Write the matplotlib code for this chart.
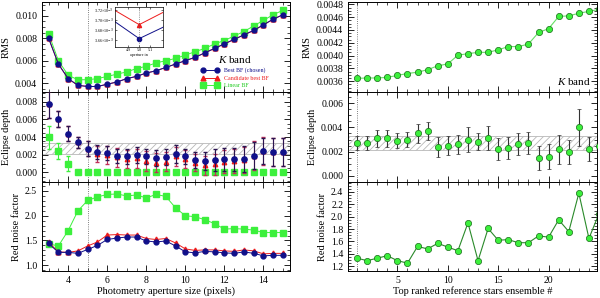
import numpy as np
import matplotlib.pyplot as plt
from matplotlib.ticker import MultipleLocator, AutoMinorLocator, FormatStrFormatter

plt.rcParams['font.family'] = ['Liberation Serif', 'DejaVu Serif']
plt.rcParams['mathtext.fontset'] = 'custom'
plt.rcParams['mathtext.it'] = 'Liberation Serif:italic'
plt.rcParams['font.size'] = 7.5
plt.rcParams['hatch.color'] = '#b0b0b0'
plt.rcParams['hatch.linewidth'] = 0.6

# ---------------- data: aperture scan (left column) ----------------
aper = [3.0, 3.5, 4.0, 4.5, 5.0, 5.5, 6.0, 6.5, 7.0, 7.5, 8.0, 8.5, 9.0,
        9.5, 10.0, 10.5, 11.0, 11.5, 12.0, 12.5, 13.0, 13.5, 14.0, 14.5, 15.0]

rms_best = [0.0080, 0.0057, 0.0044, 0.0038, 0.0037, 0.0037, 0.0039, 0.0041, 0.0044,
            0.0046, 0.0049, 0.0051, 0.0054, 0.0057, 0.0060, 0.0063, 0.0067, 0.0071,
            0.0075, 0.0079, 0.0083, 0.0087, 0.0092, 0.0097, 0.0101]
rms_cand = [0.0080, 0.0057, 0.0044, 0.0038, 0.0037, 0.0037, 0.0039, 0.0041, 0.0044,
            0.0046, 0.0049, 0.0051, 0.0054, 0.0057, 0.0060, 0.0063, 0.0067, 0.0071,
            0.0075, 0.0079, 0.0083, 0.0087, 0.0092, 0.0097, 0.0101]
rms_lin = [0.0084, 0.0060, 0.0047, 0.0043, 0.0043, 0.0044, 0.0046, 0.0048, 0.0050,
           0.0053, 0.0055, 0.0058, 0.0060, 0.0062, 0.0065, 0.0068, 0.0071, 0.0075,
           0.0078, 0.0082, 0.0086, 0.0091, 0.0096, 0.0101, 0.0105]

depth_best = [0.0077, 0.0060, 0.0044, 0.0034, 0.0027, 0.0023, 0.0022, 0.0019, 0.0018,
              0.0020, 0.0018, 0.0016, 0.0017, 0.0021, 0.0018, 0.0014, 0.0013, 0.0014,
              0.0015, 0.0015, 0.0015, 0.0019, 0.0024, 0.0023, 0.0023]
depth_best_err = [0.0015, 0.0009, 0.0008, 0.0006, 0.0008, 0.0008, 0.0008, 0.0008, 0.0009,
                  0.0009, 0.0009, 0.0009, 0.0009, 0.0010, 0.0009, 0.0009, 0.0010, 0.0012,
                  0.0013, 0.0013, 0.0015, 0.0015, 0.0015, 0.0016, 0.0016]
depth_cand = [0.0077, 0.0060, 0.0044, 0.0034, 0.0027, 0.0021, 0.0020, 0.0017, 0.0015,
              0.0016, 0.0013, 0.0011, 0.0012, 0.0018, 0.0015, 0.0011, 0.0008, 0.0009,
              0.0012, 0.0013, 0.0014, 0.0019, 0.0024, 0.0023, 0.0023]
depth_cand_err = [0.0015, 0.0009, 0.0008, 0.0006, 0.0008, 0.0009, 0.0010, 0.0011, 0.0010,
                  0.0011, 0.0011, 0.0011, 0.0011, 0.0011, 0.0010, 0.0010, 0.0011, 0.0012,
                  0.0013, 0.0014, 0.0015, 0.0016, 0.0016, 0.0016, 0.0016]
depth_lin = [0.0040, 0.0024, 0.0010, 0.0, 0.0, 0.0, 0.0, 0.0, 0.0, 0.0, 0.0, 0.0, 0.0,
             0.0, 0.0, 0.0, 0.0, 0.0, 0.0, 0.0, 0.0, 0.0, 0.0, 0.0, 0.0]
depth_lin_err = [0.0013, 0.0009, 0.0009, 0.0, 0.0, 0.0, 0.0, 0.0, 0.0, 0.0, 0.0, 0.0, 0.0,
                 0.0, 0.0, 0.0, 0.0, 0.0, 0.0, 0.0, 0.0, 0.0, 0.0, 0.0, 0.0]

red_best = [1.44, 1.26, 1.26, 1.24, 1.32, 1.40, 1.52, 1.55, 1.57, 1.57, 1.49, 1.47, 1.49,
            1.39, 1.27, 1.25, 1.28, 1.27, 1.25, 1.24, 1.27, 1.24, 1.19, 1.20, 1.20]
red_cand = [1.46, 1.27, 1.26, 1.29, 1.39, 1.47, 1.61, 1.62, 1.61, 1.61, 1.54, 1.52, 1.54,
            1.45, 1.33, 1.30, 1.31, 1.31, 1.29, 1.28, 1.31, 1.29, 1.23, 1.24, 1.24]
red_lin = [1.43, 1.39, 1.70, 2.10, 2.31, 2.38, 2.43, 2.44, 2.40, 2.42, 2.36, 2.43, 2.39,
           2.16, 2.00, 1.98, 1.92, 1.84, 1.73, 1.74, 1.73, 1.71, 1.66, 1.66, 1.66]

chosen_aper = 5.0
depth_band = [0.0021, 0.0033]

# inset zoom around the chosen aperture
inset_x = [4.75, 5.0, 5.25]
inset_best = [0.003700, 0.003662, 0.003688]
inset_cand = [0.003722, 0.003690, 0.003718]

# ---------------- data: reference ensembles (right column) ----------------
ens = list(range(1, 26))
ens_rms = [0.003644, 0.003650, 0.003650, 0.003660, 0.003690, 0.003720, 0.003740, 0.003780,
           0.003840, 0.003870, 0.004005, 0.004030, 0.004050, 0.004050, 0.004090, 0.004140,
           0.004140, 0.004180, 0.004360, 0.004420, 0.004610, 0.004620, 0.004660, 0.004690,
           0.004720]
ens_depth = [0.0027, 0.0027, 0.0031, 0.0031, 0.0029, 0.0030, 0.0035, 0.0037, 0.0024,
             0.0025, 0.0026, 0.0030, 0.0028, 0.0031, 0.0022, 0.0023, 0.0026, 0.0027,
             0.0015, 0.0016, 0.0022, 0.0020, 0.0040, 0.0022, 0.0025]
ens_depth_err = [0.0006, 0.0006, 0.0007, 0.0007, 0.0006, 0.0006, 0.0008, 0.0007, 0.0008,
                 0.0008, 0.0008, 0.0010, 0.0007, 0.0010, 0.0009, 0.0009, 0.0009, 0.0009,
                 0.0010, 0.0010, 0.0012, 0.0010, 0.0015, 0.0010, 0.0010]
ens_red = [1.33, 1.29, 1.33, 1.37, 1.29, 1.25, 1.52, 1.48, 1.57, 1.51, 1.45, 1.90, 1.29,
           1.81, 1.62, 1.63, 1.58, 1.58, 1.69, 1.67, 1.95, 1.76, 2.38, 1.65, 2.05]
chosen_ens = 1

navy = '#10108a'
red = '#ee1c1c'
lgreen = '#3cf03c'
dgreen = '#2a8a2a'

fig = plt.figure(figsize=(6.0, 2.98), dpi=100)

ys = [0.992, 0.691, 0.389, 0.090]
L = [fig.add_axes([0.070, ys[i + 1], 0.413, ys[i] - ys[i + 1]]) for i in range(3)]
R = [fig.add_axes([0.580, ys[i + 1], 0.415, ys[i] - ys[i + 1]]) for i in range(3)]


def style(ax):
    ax.tick_params(which='both', direction='in', top=True, right=True, labelsize=7)
    ax.tick_params(which='major', length=4, width=0.6)
    ax.tick_params(which='minor', length=2, width=0.5)
    for s in ax.spines.values():
        s.set_linewidth(0.7)


# ---- left top: RMS
ax = L[0]
ax.plot(aper, rms_best, '-o', color=navy, ms=3.5, lw=0.7, label='Best BF (chosen)', zorder=4)
ax.plot(aper, rms_cand, '-^', color=red, ms=3.5, lw=0.7, label='Candidate best BF', zorder=3)
ax.plot(aper, rms_lin, '-s', color=lgreen, ms=3.8, lw=0.7, label='Linear BF', zorder=2)
ax.set_ylim(0.0032, 0.0112)
ax.yaxis.set_major_locator(MultipleLocator(0.002))
ax.yaxis.set_minor_locator(MultipleLocator(0.0005))
ax.yaxis.set_major_formatter(FormatStrFormatter('%.3f'))
ax.set_ylabel('RMS', fontsize=7.5, labelpad=3)
leg = ax.legend(loc='lower right', bbox_to_anchor=(0.93, 0.0), frameon=False,
                fontsize=4.3, title='$K$ band', title_fontsize=8, handlelength=3.0,
                numpoints=2, labelspacing=0.35, borderaxespad=0.3)
for t, c in zip(leg.get_texts(), [navy, red, '#22cc22']):
    t.set_color(c)

# ---- left middle: eclipse depth
ax = L[1]
ax.fill_between([2, 16], depth_band[0], depth_band[1], facecolor='none',
                edgecolor='#b8b8b8', hatch='/////', lw=0.6, zorder=0)
ax.errorbar(aper, depth_lin, yerr=depth_lin_err, fmt='s', color=lgreen, ms=3.8,
            elinewidth=0.8, capsize=1.5, zorder=2)
ax.errorbar(aper, depth_cand, yerr=depth_cand_err, fmt='^', color=red, ms=3.2,
            ecolor='#c0305a', elinewidth=0.8, capsize=1.5, zorder=3)
ax.errorbar(aper, depth_best, yerr=depth_best_err, fmt='o', color=navy, ms=3.8,
            ecolor='#2a1450', elinewidth=0.8, capsize=1.5, zorder=4)
ax.set_ylim(-0.0011, 0.0091)
ax.yaxis.set_major_locator(MultipleLocator(0.002))
ax.yaxis.set_minor_locator(MultipleLocator(0.0005))
ax.yaxis.set_major_formatter(FormatStrFormatter('%.3f'))
ax.set_ylabel('Eclipse depth', fontsize=7.5, labelpad=3)

# ---- left bottom: red noise
ax = L[2]
ax.plot(aper, red_lin, '-s', color=lgreen, ms=3.8, lw=0.7, zorder=2)
ax.plot(aper, red_cand, '-^', color=red, ms=3.5, lw=0.7, zorder=3)
ax.plot(aper, red_best, '-o', color=navy, ms=3.5, lw=0.7, zorder=4)
ax.set_ylim(0.88, 2.68)
ax.yaxis.set_major_locator(MultipleLocator(0.5))
ax.yaxis.set_minor_locator(MultipleLocator(0.1))
ax.yaxis.set_major_formatter(FormatStrFormatter('%.1f'))
ax.set_ylabel('Red noise factor', fontsize=7.5, labelpad=3)
ax.set_xlabel('Photometry aperture size (pixels)', fontsize=7.5, labelpad=1)

for ax in L:
    style(ax)
    ax.set_xlim(2.66, 15.35)
    ax.xaxis.set_major_locator(MultipleLocator(2))
    ax.xaxis.set_minor_locator(MultipleLocator(0.5))
    ax.axvline(chosen_aper, color='#555555', ls=':', lw=0.6, zorder=1)
    if ax is not L[2]:
        ax.tick_params(labelbottom=False)

# ---- inset
ins = fig.add_axes([0.192, 0.842, 0.080, 0.134])
ins.plot(inset_x, inset_cand, '-^', color=red, ms=3, lw=0.7)
ins.plot(inset_x, inset_best, '-o', color=navy, ms=3, lw=0.7)
ins.axvline(chosen_aper, color='#555555', ls=':', lw=0.5)
ins.set_xlim(4.78, 5.22)
ins.set_ylim(0.003645, 0.003725)
ins.set_xticks([4.9, 5.0, 5.1])
ins.set_xticklabels(['4.9', '5.0', '5.1'])
ins.set_yticks([0.00366, 0.00368, 0.00370, 0.00372])
ins.set_yticklabels(['3.66×10$^{-3}$', '3.68×10$^{-3}$', '3.70×10$^{-3}$', '3.72×10$^{-3}$'])
ins.set_xlabel('aperture in', fontsize=3, labelpad=0.5)
ins.tick_params(direction='in', labelsize=3, length=1.5, width=0.4, pad=1, top=True, right=True)
for s in ins.spines.values():
    s.set_linewidth(0.5)

# ---- right top: RMS
ax = R[0]
ax.plot(ens, ens_rms, '-o', color='#66e066', mfc=lgreen, mec='#1a6a1a', mew=0.5,
        ms=4.5, lw=0.8)
ax.set_ylim(0.00343, 0.00483)
ax.yaxis.set_major_locator(MultipleLocator(0.0002))
ax.yaxis.set_minor_locator(MultipleLocator(0.00005))
ax.yaxis.set_major_formatter(FormatStrFormatter('%.4f'))
ax.set_ylabel('RMS', fontsize=7.5, labelpad=3)
ax.text(0.975, 0.06, '$K$ band', transform=ax.transAxes, ha='right', va='bottom', fontsize=8)

# ---- right middle: eclipse depth
ax = R[1]
ax.fill_between([0, 26], depth_band[0], depth_band[1], facecolor='none',
                edgecolor='#b8b8b8', hatch='/////', lw=0.6, zorder=0)
ax.errorbar(ens, ens_depth, yerr=ens_depth_err, fmt='o', mfc=lgreen, mec='#1a6a1a',
            mew=0.5, ms=4.5, ecolor='#333333', elinewidth=0.8, capsize=1.5, zorder=3)
ax.set_ylim(-0.0005, 0.0069)
ax.yaxis.set_major_locator(MultipleLocator(0.002))
ax.yaxis.set_minor_locator(MultipleLocator(0.0005))
ax.yaxis.set_major_formatter(FormatStrFormatter('%.3f'))
ax.set_ylabel('Eclipse depth', fontsize=7.5, labelpad=3)

# ---- right bottom: red noise
ax = R[2]
ax.plot(ens, ens_red, '-o', color=dgreen, mfc=lgreen, mec='#1a6a1a', mew=0.5,
        ms=4.5, lw=0.8)
ax.set_ylim(1.12, 2.56)
ax.yaxis.set_major_locator(MultipleLocator(0.2))
ax.yaxis.set_minor_locator(MultipleLocator(0.05))
ax.yaxis.set_major_formatter(FormatStrFormatter('%.1f'))
ax.set_ylabel('Red noise factor', fontsize=7.5, labelpad=3)
ax.set_xlabel('Top ranked reference stars ensemble #', fontsize=7.5, labelpad=1)

for ax in R:
    style(ax)
    ax.set_xlim(0.1, 24.8)
    ax.xaxis.set_major_locator(MultipleLocator(5))
    ax.xaxis.set_minor_locator(MultipleLocator(1))
    ax.axvline(chosen_ens, color='#555555', ls=':', lw=0.6, zorder=1)
    if ax is not R[2]:
        ax.tick_params(labelbottom=False)

fig.savefig('out.png', dpi=100)
